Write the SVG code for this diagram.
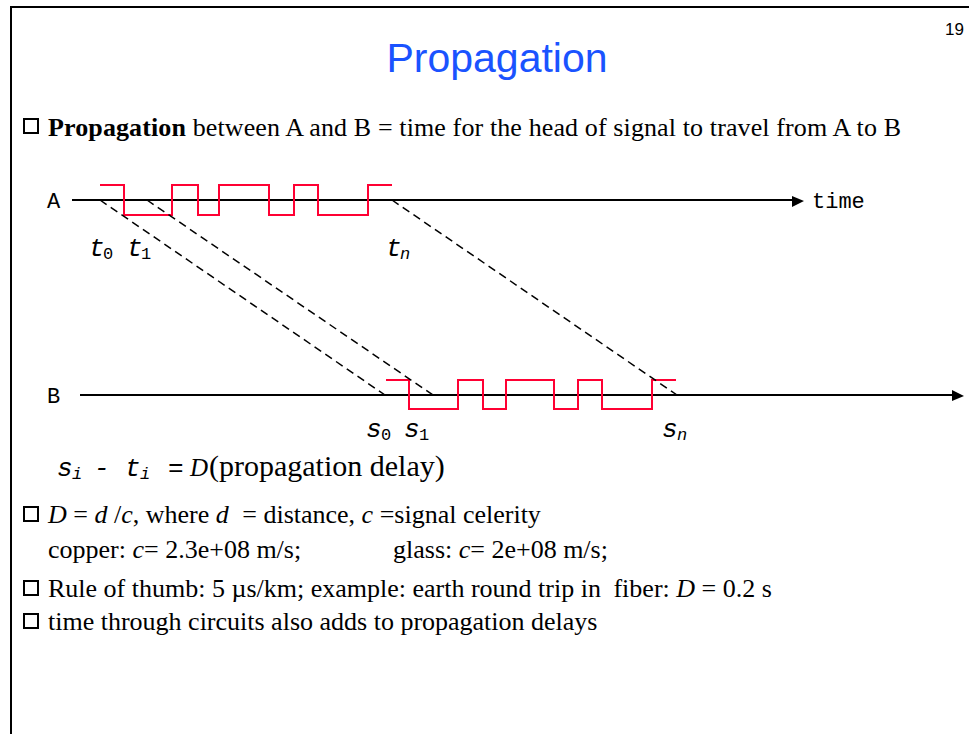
<svg xmlns="http://www.w3.org/2000/svg" width="969" height="734" viewBox="0 0 969 734">
<style>
.frame{fill:none;stroke:#000;stroke-width:2}
.axis{fill:none;stroke:#000;stroke-width:2}
.sig{fill:none;stroke:#ff0033;stroke-width:2}
.dash{fill:none;stroke:#000;stroke-width:1.5;stroke-dasharray:8 5}
.box{fill:none;stroke:#000;stroke-width:2}
.title{font-family:"Liberation Sans",Arial,sans-serif;font-size:41px;fill:#1a53ff}
.pg{font-family:"Liberation Sans",Arial,sans-serif;font-size:17px;fill:#000}
.body{font-family:"Liberation Serif","Times New Roman",serif;font-size:26px;fill:#000}
.mono{font-family:"Liberation Mono","Courier New",monospace;font-size:22px;fill:#000}
.var{font-family:"Liberation Mono","Courier New",monospace;font-size:26px;font-style:italic;fill:#000}
.sub{font-family:"Liberation Mono","Courier New",monospace;font-size:17px;fill:#000}
.subi{font-family:"Liberation Mono","Courier New",monospace;font-size:17px;font-style:italic;fill:#000}
</style>
<path class="frame" d="M11,734 V7 H969"/>
<text class="pg" x="945" y="35">19</text>
<text class="title" x="497" y="72" text-anchor="middle">Propagation</text>

<g id="bullet1">
<rect class="box" x="24" y="119" width="14" height="14"/>
<text class="body" x="48" y="136" textLength="853"><tspan font-weight="bold">Propagation</tspan> between A and B = time for the head of signal to travel from A to B</text>
</g>

<g id="lineA">
<text class="mono" x="47" y="208">A</text>
<line class="axis" x1="72" y1="200" x2="795" y2="200"/>
<polygon points="792,196 804,201 792,207" fill="#000"/>
<text class="mono" x="812" y="208">time</text>
<path class="sig" d="M100,185 H124 V215 H172 V185 H198 V215 H219 V185 H269 V215 H294 V185 H318 V215 H368 V185 H392"/>
</g>

<g id="lineB">
<text class="mono" x="47" y="403">B</text>
<line class="axis" x1="80" y1="395" x2="955" y2="395"/>
<polygon points="952,390 964,396 952,401" fill="#000"/>
<path class="sig" d="M386,380 H409 V409 H458 V380 H483 V409 H506 V380 H554 V409 H578 V380 H602 V409 H652 V380 H676"/>
</g>

<g id="connectors">
<line class="dash" x1="100" y1="200" x2="385" y2="395"/>
<line class="dash" x1="147" y1="200" x2="433" y2="395"/>
<line class="dash" x1="392" y1="200" x2="677" y2="395"/>
</g>

<g id="labels">
<text class="var" x="89" y="256">t</text><text class="sub" x="103" y="259">0</text>
<text class="var" x="127" y="256">t</text><text class="sub" x="141" y="259">1</text>
<text class="var" x="386" y="256">t</text><text class="subi" x="400" y="259">n</text>
<text class="var" x="366" y="437">s</text><text class="sub" x="381" y="440">0</text>
<text class="var" x="404" y="437">s</text><text class="sub" x="419" y="440">1</text>
<text class="var" x="662" y="437">s</text><text class="subi" x="677" y="440">n</text>
</g>

<g id="formula">
<text class="var" x="57" y="476">s</text><text class="subi" x="72" y="479">i</text>
<text class="var" x="94" y="476">-</text>
<text class="var" x="125" y="476">t</text><text class="subi" x="140" y="479">i</text>
<text class="var" x="168" y="476">=</text>
<text class="body" x="190" y="476" style="font-size:25px;font-style:italic">D</text>
<text class="body" x="209" y="476" style="font-size:30px">(propagation delay)</text>
</g>

<g id="bullet2">
<rect class="box" x="24" y="507" width="14" height="14"/>
<text class="body" x="48" y="523" xml:space="preserve"><tspan font-style="italic">D</tspan> = <tspan font-style="italic">d</tspan> /<tspan font-style="italic">c</tspan>, where <tspan font-style="italic">d</tspan><tspan dx="7"> = distance, </tspan><tspan font-style="italic">c</tspan> =signal celerity</text>
<text class="body" x="48" y="558">copper: <tspan font-style="italic">c</tspan>= 2.3e+08 m/s;</text>
<text class="body" x="393" y="558">glass: <tspan font-style="italic">c</tspan>= 2e+08 m/s;</text>
</g>

<g id="bullet3">
<rect class="box" x="24" y="581" width="14" height="14"/>
<text class="body" x="48" y="597">Rule of thumb: 5 µs/km; example: earth round trip in<tspan dx="6"> fiber: </tspan><tspan font-style="italic">D</tspan> = 0.2 s</text>
</g>

<g id="bullet4">
<rect class="box" x="24" y="614" width="14" height="14"/>
<text class="body" x="48" y="630">time through circuits also adds to propagation delays</text>
</g>
</svg>
